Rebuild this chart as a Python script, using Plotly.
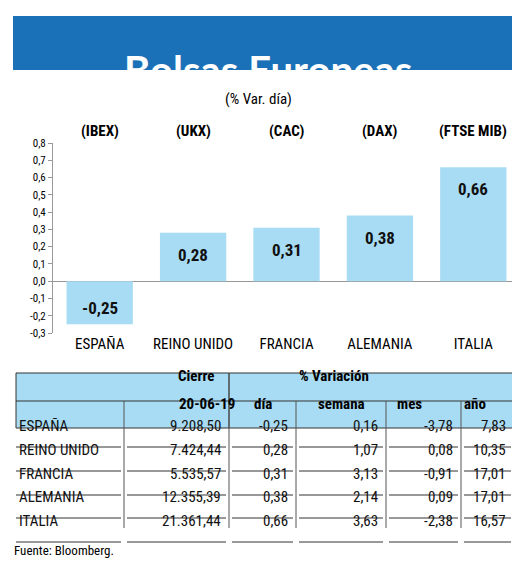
import plotly.graph_objects as go

W, H = 520, 565

# datos del grafico
paises = ['ESPAÑA', 'REINO UNIDO', 'FRANCIA', 'ALEMANIA', 'ITALIA']
indices = ['(IBEX)', '(UKX)', '(CAC)', '(DAX)', '(FTSE MIB)']
var_dia = [-0.25, 0.28, 0.31, 0.38, 0.66]
ticks = [-0.3, -0.2, -0.1, 0.0, 0.1, 0.2, 0.3, 0.4, 0.5, 0.6, 0.7, 0.8]

# datos de la tabla
cierre = ['9.208,50', '7.424,44', '5.535,57', '12.355,39', '21.361,44']
t_dia = ['-0,25', '0,28', '0,31', '0,38', '0,66']
t_semana = ['0,16', '1,07', '3,13', '2,14', '3,63']
t_mes = ['-3,78', '0,08', '-0,91', '0,09', '-2,38']
t_anio = ['7,83', '10,35', '17,01', '17,01', '16,57']

FONT = 'Liberation Sans Narrow, Roboto Condensed, Arial Narrow, sans-serif'


def fx(px):
    return px / W


def fy(py):
    return 1 - py / H


def fmt(v):
    return f'{v:.2f}'.replace('.', ',')


fig = go.Figure()
fig.add_trace(go.Bar(x=paises, y=var_dia, marker=dict(color='#a8dcf4', line=dict(width=0)),
                     hoverinfo='skip'))

shapes = []
ann = []

# titulo
shapes.append(dict(type='rect', xref='paper', yref='paper', x0=fx(5), x1=fx(515), y0=fy(62), y1=fy(8),
                   fillcolor='#1b71b8', line=dict(width=0), layer='below'))
ann.append(dict(text='<b>Bolsas Europeas</b>', x=0.5, y=fy(36), xref='paper', yref='paper',
                showarrow=False, font=dict(family='Lato, Noto Sans, sans-serif', size=40, color='white')))
ann.append(dict(text='(% Var. día)', x=fx(250), y=fy(80), xref='paper', yref='paper', showarrow=False,
                font=dict(family=FONT, size=15, color='black')))

# etiquetas de indices y valores
for p, ind, v in zip(paises, indices, var_dia):
    ann.append(dict(text='<b>' + ind + '</b>', x=p, y=fy(112), xref='x', yref='paper', showarrow=False,
                    font=dict(family=FONT, size=15, color='black')))
    ann.append(dict(text='<b>' + fmt(v) + '</b>', x=p, y=v, xref='x', yref='y', showarrow=False,
                    yshift=-22 if v > 0 else 16, font=dict(family=FONT, size=17, color='#111')))

# tabla
cols = [8, 116, 221, 288, 378, 453, 506]
r_top, r_mid, r_head = 365, 393, 420
rows = [439, 463, 487, 510, 534]
shapes.append(dict(type='rect', xref='paper', yref='paper', x0=fx(8), x1=fx(506), y0=fy(r_head), y1=fy(r_top),
                   fillcolor='#a8dcf4', line=dict(color='#333', width=1)))
shapes.append(dict(type='line', xref='paper', yref='paper', x0=fx(8), x1=fx(506), y0=fy(r_mid), y1=fy(r_mid),
                   line=dict(color='#333', width=1)))
shapes.append(dict(type='line', xref='paper', yref='paper', x0=fx(221), x1=fx(221), y0=fy(r_head), y1=fy(r_top),
                   line=dict(color='#333', width=1)))
for c in cols[1:-1]:
    top = r_mid if c != 221 else r_top
    shapes.append(dict(type='line', xref='paper', yref='paper', x0=fx(c), x1=fx(c), y0=fy(rows[-1] - 14),
                       y1=fy(top), line=dict(color='#555', width=1)))
hfont = dict(family=FONT, size=15, color='black')
ann.append(dict(text='<b>Cierre</b>', x=fx(168), y=fy(379), xref='paper', yref='paper', showarrow=False, font=hfont))
ann.append(dict(text='<b>% Variación</b>', x=fx(363), y=fy(379), xref='paper', yref='paper', showarrow=False, font=hfont))
for name, a, b in [('20-06-19', 116, 221), ('día', 221, 288), ('semana', 288, 378), ('mes', 378, 453), ('año', 453, 506)]:
    ann.append(dict(text='<b>' + name + '</b>', x=fx((a + b) / 2), y=fy(407), xref='paper', yref='paper',
                    showarrow=False, font=hfont))

cfont = dict(family=FONT, size=15, color='#111')
for i, yb in enumerate(rows):
    vals = [cierre[i], t_dia[i], t_semana[i], t_mes[i], t_anio[i]]
    ann.append(dict(text=paises[i], x=fx(9), y=fy(yb - 10), xref='paper', yref='paper', xanchor='left',
                    showarrow=False, font=cfont))
    for j, v in enumerate(vals):
        ann.append(dict(text=v, x=fx(cols[j + 2] - 6), y=fy(yb - 10), xref='paper', yref='paper', xanchor='right',
                        showarrow=False, font=cfont))
    for j in range(len(cols) - 1):
        shapes.append(dict(type='line', xref='paper', yref='paper', x0=fx(cols[j] + (0 if j == 0 else 3)),
                           x1=fx(cols[j + 1] - 3), y0=fy(yb), y1=fy(yb), line=dict(color='#333', width=1)))

ann.append(dict(text='Fuente: Bloomberg.', x=fx(4), y=fy(552), xref='paper', yref='paper', xanchor='left',
                showarrow=False, font=dict(family=FONT, size=13, color='black')))

fig.update_layout(
    width=W, height=H,
    margin=dict(l=0, r=0, t=0, b=0, autoexpand=False),
    paper_bgcolor='white', plot_bgcolor='white',
    showlegend=False, bargap=0.29,
    shapes=shapes, annotations=ann,
    xaxis=dict(domain=[fx(45), fx(512)], showline=False, ticks='', automargin=False,
               tickfont=dict(family=FONT, size=15, color='black'), anchor='y'),
    yaxis=dict(domain=[fy(325), fy(135)], range=[-0.3, 0.8], tickvals=ticks, automargin=False,
               ticktext=[fmt(t)[:-1] if t != 0 else '0,0' for t in ticks],
               showgrid=False, showline=True, linecolor='#999', ticks='outside', ticklen=4, tickcolor='#999',
               zeroline=True, zerolinecolor='#999', zerolinewidth=1,
               tickfont=dict(family=FONT, size=11, color='black')),
)

fig.write_html('out.html')
